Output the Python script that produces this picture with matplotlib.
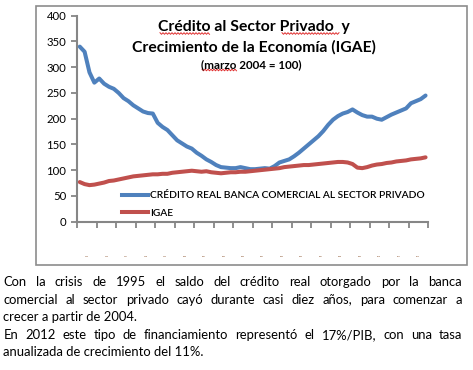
import matplotlib
matplotlib.use('Agg')
import matplotlib.pyplot as plt
from matplotlib.lines import Line2D
from matplotlib.patches import Rectangle
import numpy as np

# ---------------- data ----------------
years = list(range(1995, 2013))
credito = [340, 330, 290, 270,
           278, 268, 262, 258,
           250, 240, 234, 226,
           220, 214, 211, 210,
           192, 184, 178, 168,
           158, 152, 146, 142,
           134, 128, 121, 116,
           110, 106, 105, 104,
           104, 106, 104, 102,
           102, 103, 104, 103,
           108, 115, 118, 121,
           127, 134, 142, 150,
           158, 166, 176, 188,
           198, 205, 210, 213,
           218, 212, 207, 204,
           204, 200, 198, 203,
           208, 212, 216, 220,
           230, 234, 238, 245]
igae = [77, 73, 71, 72,
        74, 76, 79, 80,
        82, 84, 86, 88,
        89, 90, 91, 92,
        92, 93, 93, 95,
        96, 97, 98, 99,
        98, 97, 98, 96,
        95, 94, 95, 96,
        96, 97, 97, 98,
        99, 100, 101, 102,
        103, 104, 106, 107,
        108, 109, 110, 110,
        111, 112, 113, 114,
        115, 116, 116, 115,
        112, 105, 104, 106,
        109, 111, 112, 114,
        115, 117, 118, 119,
        121, 122, 123, 125]
year_labels = [str(y) for y in years]
y_ticks = list(range(0, 401, 50))
title_lines = ["Crédito al Sector Privado  y",
               "Crecimiento de la Economía (IGAE)"]
subtitle = "(marzo 2004 = 100)"
legend_labels = ["CRÉDITO REAL BANCA COMERCIAL AL SECTOR PRIVADO", "IGAE"]
paragraph = [
    ("Con la crisis de 1995 el saldo del crédito real otorgado por la banca", True),
    ("comercial al sector privado cayó durante casi diez años, para comenzar a", True),
    ("crecer a partir de 2004.", False),
    ("En 2012 este tipo de financiamiento representó el 17%/PIB, con una tasa", True),
    ("anualizada de crecimiento del 11%.", False),
]

# ---------------- style ----------------
FAM = ['Lato', 'DejaVu Sans']
plt.rcParams['font.family'] = FAM
BLUE = '#4F81BD'
RED = '#C0504D'
GRAY = '#868686'

W, H = 473, 370
fig = plt.figure(figsize=(W / 100, H / 100), dpi=100)
fig.patch.set_facecolor('white')
renderer = fig.canvas.get_renderer()


def fx(px):
    return px / W


def fy(py):
    return 1 - py / H


def measure(s, size, weight='normal'):
    t = fig.text(0, 0, s, fontsize=size, fontweight=weight)
    w = t.get_window_extent(renderer).width
    t.remove()
    return w


def fit(s, target, weight='normal'):
    return 10 * target / measure(s, 10, weight)


# outer frame
fig.add_artist(Rectangle((fx(35.7), fy(265)), fx(466.7) - fx(35.7), fy(5.7) - fy(265),
                         transform=fig.transFigure, fill=False, edgecolor='#8C8C8C',
                         linewidth=1.2))

# axes
ax = fig.add_axes([fx(77.3), fy(221.7), fx(428) - fx(77.3), fy(15.7) - fy(221.7)])
t = [y + (q + 0.5) / 4 for y in years for q in range(4)]
l1, = ax.plot(t, credito, color=BLUE, lw=2.9, solid_joinstyle='round', solid_capstyle='round')
l2, = ax.plot(t, igae, color=RED, lw=2.9, solid_joinstyle='round', solid_capstyle='round')
ax.set_xlim(years[0], years[-1] + 1)
ax.set_ylim(0, 400)
ax.set_yticks(y_ticks)
ax.set_xticks(list(range(years[0], years[-1] + 2)))
ax.set_xticklabels([])
ax.set_xticks([y + 0.5 for y in years], minor=True)
ax.set_xticklabels(year_labels, minor=True, fontsize=1.3, color='#7a3b10')
ax.tick_params(axis='x', which='minor', length=0, pad=25)
ax.tick_params(axis='x', which='major', length=4, width=1.3, color=GRAY, direction='out')
ax.tick_params(axis='y', length=4.5, width=1.3, color=GRAY, labelsize=8.2, pad=3.5)
for sp in ['top', 'right']:
    ax.spines[sp].set_visible(False)
for sp in ['left', 'bottom']:
    ax.spines[sp].set_color(GRAY)
    ax.spines[sp].set_linewidth(1.5)
ax.set_facecolor('none')

# title
ts = fit(title_lines[1], 244, 'bold')
fig.text(fx(254), fy(30.7), title_lines[0], fontsize=ts, fontweight='bold',
         ha='center', va='baseline')
fig.text(fx(254), fy(51.7), title_lines[1], fontsize=ts, fontweight='bold',
         ha='center', va='baseline')
ss = fit(subtitle, 101, 'bold')
fig.text(fx(251), fy(68), subtitle, fontsize=ss, fontweight='bold',
         ha='center', va='baseline')


# spell-check squiggles
def squiggle(x0, x1, y):
    xs = np.arange(x0, x1 + 0.01, 1.5)
    ys = y + np.where(np.arange(len(xs)) % 2 == 0, -0.8, 0.8)
    fig.add_artist(Line2D(fx(xs), fy(ys), transform=fig.transFigure,
                          color='#E03030', lw=0.7))


squiggle(160, 210, 33.5)
squiggle(282, 340, 33.5)
squiggle(202, 237, 70)

# legend
ls = fit(legend_labels[0], 275, 'semibold')
for i, (ln, lab) in enumerate(zip([l1, l2], legend_labels)):
    yy = 195 + i * 17
    fig.add_artist(Line2D([fx(122), fx(148)], [fy(yy), fy(yy)], transform=fig.transFigure,
                          color=ln.get_color(), lw=2.9))
    fig.text(fx(150), fy(yy), lab, fontsize=ls, fontweight='semibold',
             ha='left', va='center_baseline')

# paragraph
ps = fit("crecer a partir de 2004.", 134)
x0, x1 = 3.3, 462
for i, (line, just) in enumerate(paragraph):
    yb = 286 + i * 17.6
    if just:
        words = line.split()
        widths = [measure(w, ps) for w in words]
        gap = (x1 - x0 - sum(widths)) / (len(words) - 1)
        x = x0
        for w, wd in zip(words, widths):
            fig.text(fx(x), fy(yb), w, fontsize=ps, ha='left', va='baseline')
            x += wd + gap
    else:
        fig.text(fx(x0), fy(yb), line, fontsize=ps, ha='left', va='baseline')

fig.savefig('out.png', dpi=100, facecolor='white')
